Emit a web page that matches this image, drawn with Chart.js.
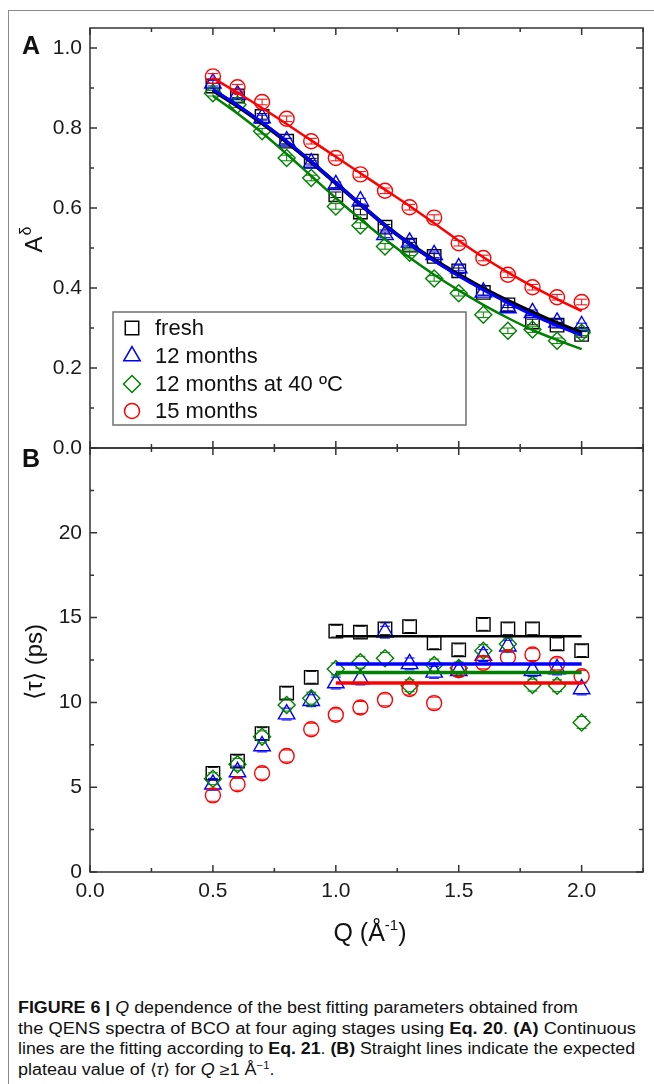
<!DOCTYPE html>
<html>
<head>
<meta charset="utf-8">
<script src="https://cdn.jsdelivr.net/npm/chart.js@4/dist/chart.umd.min.js"></script>
<style>
  body { margin: 0; background: #fff; width: 654px; height: 1084px; overflow: hidden; position: relative;
         font-family: 'Liberation Sans', Arial, sans-serif; }
  #frame { position: absolute; left: 8px; top: 10px; width: 700px; height: 1100px;
           border-top: 1px solid #8a8a8a; border-left: 1px solid #8a8a8a; }
  #chartA { position: absolute; left: 0; top: 0; }
  #chartB { position: absolute; left: 0; top: 425px; }
  #caption { position: absolute; left: 18px; top: 998px; font-size: 16px; line-height: 20.7px; color: #111;
             font-family: 'Liberation Sans Narrow', 'Liberation Sans', Arial, sans-serif; }
  #caption .ln { width: max-content; white-space: nowrap; transform-origin: 0 50%; }
  #caption sup { font-size: 10px; line-height: 0; vertical-align: 6px; }
</style>
</head>
<body>
<div id="frame"></div>
<canvas id="chartA" width="654" height="475"></canvas>
<canvas id="chartB" width="654" height="535"></canvas>
<div id="caption">
  <div class="ln"><b>FIGURE 6 |</b> <i>Q</i> dependence of the best fitting parameters obtained from</div>
  <div class="ln">the QENS spectra of BCO at four aging stages using <b>Eq. 20</b>. <b>(A)</b> Continuous</div>
  <div class="ln">lines are the fitting according to <b>Eq. 21</b>. <b>(B)</b> Straight lines indicate the expected</div>
  <div class="ln">plateau value of ⟨<i>τ</i>⟩ for <i>Q</i> ≥1 Å<sup>−1</sup>.</div>
</div>
<script>
// Q values (1/Å) shared by both panels
const qValues = [0.5, 0.6, 0.7, 0.8, 0.9, 1.0, 1.1, 1.2, 1.3, 1.4, 1.5, 1.6, 1.7, 1.8, 1.9, 2.0];
const seriesNames = ['fresh', '12 months', '12 months at 40 ºC', '15 months'];

// panel A: A^delta
const freshA   = [0.905, 0.880, 0.829, 0.767, 0.717, 0.633, 0.590, 0.552, 0.507, 0.479, 0.443, 0.389, 0.358, 0.315, 0.307, 0.284];
const m12A     = [0.912, 0.883, 0.825, 0.767, 0.712, 0.658, 0.617, 0.533, 0.514, 0.483, 0.450, 0.389, 0.350, 0.338, 0.314, 0.305];
const m12hotA  = [0.887, 0.858, 0.792, 0.725, 0.675, 0.604, 0.556, 0.504, 0.488, 0.424, 0.387, 0.333, 0.293, 0.296, 0.268, 0.288];
const m15A     = [0.929, 0.902, 0.865, 0.823, 0.767, 0.725, 0.684, 0.643, 0.602, 0.576, 0.512, 0.475, 0.433, 0.402, 0.377, 0.365];

// fits (Eq. 21)
const fitFreshA  = [0.894, 0.855, 0.812, 0.765, 0.715, 0.662, 0.609, 0.557, 0.511, 0.470, 0.433, 0.399, 0.368, 0.339, 0.312, 0.288];
const fitM12A    = [0.896, 0.857, 0.814, 0.767, 0.716, 0.663, 0.609, 0.557, 0.510, 0.468, 0.430, 0.395, 0.363, 0.333, 0.306, 0.282];
const fitM12hotA = [0.880, 0.836, 0.788, 0.735, 0.680, 0.625, 0.572, 0.522, 0.476, 0.433, 0.394, 0.358, 0.325, 0.295, 0.270, 0.247];
const fitM15A    = [0.925, 0.888, 0.850, 0.810, 0.769, 0.728, 0.687, 0.646, 0.605, 0.562, 0.518, 0.477, 0.439, 0.404, 0.372, 0.342];

// panel B: <tau> (ps)
const freshB   = [5.82, 6.54, 8.16, 10.55, 11.48, 14.20, 14.14, 14.34, 14.47, 13.51, 13.10, 14.60, 14.34, 14.34, 13.45, 13.05];
const m12B     = [5.17, 5.90, 7.43, 9.31, 10.10, 11.14, 11.38, 14.14, 12.27, 11.77, 11.87, 12.76, 13.31, 11.87, 11.97, 10.79];
const m12hotB  = [5.50, 6.35, 7.97, 9.84, 10.25, 11.97, 12.37, 12.60, 10.98, 12.20, 12.03, 13.05, 13.45, 11.02, 10.98, 8.82];
const m15B     = [4.52, 5.17, 5.82, 6.84, 8.42, 9.27, 9.70, 10.15, 10.79, 9.96, 11.90, 12.33, 12.66, 12.82, 12.27, 11.54];

// plateau for Q >= 1
const plateauQ = [1.0, 2.0];
const plateauB = [13.9, 12.27, 11.77, 11.14];

const errA = 0.007;
const errB = 0.35;

const colors = ['#000000', '#0000ff', '#008000', '#ff0000'];
const styles = ['rect', 'triangle', 'rectRot', 'circle'];
const radii = [9.5, 9.5, 8.5, 7.5];

Chart.defaults.font.family = "'Liberation Sans', Arial, sans-serif";
Chart.defaults.color = '#1a1a1a';

const pts = (ys) => qValues.map((q, i) => ({ x: q, y: ys[i] }));

function markerSet(i, ys, err, order) {
  return {
    label: seriesNames[i], data: pts(ys), showLine: false,
    pointStyle: styles[i], pointRadius: radii[i], pointHoverRadius: radii[i],
    pointBorderColor: colors[i], pointBackgroundColor: 'rgba(0,0,0,0)', pointBorderWidth: 1.4,
    borderColor: colors[i], backgroundColor: 'rgba(0,0,0,0)', order, err
  };
}
function lineSet(i, data, width, order) {
  return {
    label: seriesNames[i] + ' fit', data, showLine: true, pointRadius: 0, fill: false,
    borderColor: colors[i], borderWidth: width, cubicInterpolationMode: 'monotone', order
  };
}

// error bars drawn with each dataset (caps, optional stem)
const errorBars = {
  id: 'errorBars',
  afterDatasetDraw(chart, args, opts) {
    const ds = chart.data.datasets[args.index];
    if (!ds.err) return;
    const { ctx } = chart;
    const y = chart.scales.y;
    const half = opts.capWidth / 2;
    ctx.save();
    ctx.strokeStyle = ds.borderColor;
    ctx.lineWidth = 1;
    args.meta.data.forEach((pt, j) => {
      const v = ds.data[j].y;
      const top = y.getPixelForValue(v + ds.err), bot = y.getPixelForValue(v - ds.err);
      ctx.beginPath();
      if (opts.stem) { ctx.moveTo(pt.x, top); ctx.lineTo(pt.x, bot); }
      ctx.moveTo(pt.x - half, top); ctx.lineTo(pt.x + half, top);
      ctx.moveTo(pt.x - half, bot); ctx.lineTo(pt.x + half, bot);
      ctx.stroke();
    });
    ctx.restore();
  }
};

// box around plot with inward major/minor ticks on all sides
const frameTicks = {
  id: 'frameTicks',
  afterDraw(chart, args, opts) {
    const { ctx, chartArea: a } = chart;
    const x = chart.scales.x, y = chart.scales.y;
    ctx.save();
    ctx.strokeStyle = '#333';
    ctx.lineWidth = 1.5;
    ctx.strokeRect(a.left, a.top, a.right - a.left, a.bottom - a.top);
    ctx.beginPath();
    for (let i = 0; i * opts.xMinor <= x.max + 1e-9; i++) {
      const px = x.getPixelForValue(i * opts.xMinor);
      const len = i % 2 === 0 ? 7 : 4;
      ctx.moveTo(px, a.bottom); ctx.lineTo(px, a.bottom - len);
      ctx.moveTo(px, a.top); ctx.lineTo(px, a.top + len);
    }
    for (let i = 0; i * opts.yMinor <= y.max + 1e-9; i++) {
      const py = y.getPixelForValue(i * opts.yMinor);
      const len = i % 2 === 0 ? 7 : 4;
      ctx.moveTo(a.left, py); ctx.lineTo(a.left + len, py);
      ctx.moveTo(a.right, py); ctx.lineTo(a.right - len, py);
    }
    ctx.stroke();
    ctx.restore();
  }
};

const drawPoint = Chart.helpers && Chart.helpers.drawPoint;

const textA = {
  id: 'textA',
  afterDraw(chart) {
    const { ctx } = chart;
    ctx.save();
    ctx.fillStyle = '#111';
    ctx.font = "bold 25px 'Liberation Sans', Arial, sans-serif";
    ctx.textBaseline = 'alphabetic';
    ctx.fillText('A', 22, 54);
    // y title A^δ
    ctx.translate(42, 240);
    ctx.rotate(-Math.PI / 2);
    ctx.font = "24px 'Liberation Sans', Arial, sans-serif";
    const wA = ctx.measureText('A').width;
    ctx.font = "16px 'Liberation Sans', 'DejaVu Sans', sans-serif";
    const wD = ctx.measureText('δ').width;
    const sx = -(wA + wD) / 2;
    ctx.font = "24px 'Liberation Sans', Arial, sans-serif";
    ctx.fillText('A', sx, 0);
    ctx.font = "16px 'Liberation Sans', 'DejaVu Sans', sans-serif";
    ctx.fillText('δ', sx + wA + 1, -11);
    ctx.restore();

    // legend inside plot
    ctx.save();
    ctx.fillStyle = '#fff';
    ctx.fillRect(113, 312, 353, 113);
    ctx.strokeStyle = '#6f6f6f';
    ctx.lineWidth = 1.5;
    ctx.strokeRect(113, 312, 353, 113);
    const rows = [328, 356, 384, 411];
    ctx.font = "22px 'Liberation Sans', Arial, sans-serif";
    ctx.textBaseline = 'middle';
    seriesNames.forEach((name, i) => {
      ctx.strokeStyle = colors[i];
      ctx.fillStyle = 'rgba(0,0,0,0)';
      if (drawPoint) drawPoint(ctx, { pointStyle: styles[i], radius: radii[i], borderWidth: 1.4, rotation: 0 }, 132, rows[i]);
      ctx.fillStyle = '#111';
      ctx.fillText(name, 155, rows[i] + 1);
    });
    ctx.restore();
  }
};

const textB = {
  id: 'textB',
  afterDraw(chart) {
    const { ctx } = chart;
    ctx.save();
    ctx.fillStyle = '#111';
    ctx.font = "bold 25px 'Liberation Sans', Arial, sans-serif";
    ctx.fillText('B', 22, 42);
    // y title
    ctx.save();
    ctx.translate(35, 237);
    ctx.rotate(-Math.PI / 2);
    ctx.font = "24px 'Liberation Sans', 'DejaVu Sans', sans-serif";
    ctx.textAlign = 'center';
    ctx.textBaseline = 'middle';
    ctx.fillText('⟨τ⟩ (ps)', 0, 0);
    ctx.restore();
    // x title Q (Å-1)
    const base = 516;
    ctx.font = "25px 'Liberation Sans', Arial, sans-serif";
    const w1 = ctx.measureText('Q (Å').width;
    const w3 = ctx.measureText(')').width;
    ctx.font = "15px 'Liberation Sans', Arial, sans-serif";
    const w2 = ctx.measureText('-1').width;
    const sx = 370 - (w1 + w2 + w3) / 2;
    ctx.font = "25px 'Liberation Sans', Arial, sans-serif";
    ctx.fillText('Q (Å', sx, base);
    ctx.font = "15px 'Liberation Sans', Arial, sans-serif";
    ctx.fillText('-1', sx + w1, base - 11);
    ctx.font = "25px 'Liberation Sans', Arial, sans-serif";
    ctx.fillText(')', sx + w1 + w2, base);
    ctx.restore();
  }
};

const yTickBase = {
  grid: { display: false, drawTicks: false },
  border: { display: false },
  afterFit: (s) => { s.width = 90; }
};

new Chart(document.getElementById('chartA'), {
  type: 'scatter',
  data: {
    datasets: [
      markerSet(0, freshA, errA, 10),
      markerSet(1, m12A, errA, 9),
      markerSet(2, m12hotA, errA, 8),
      markerSet(3, m15A, errA, 7),
      lineSet(0, pts(fitFreshA), 4, 6),
      lineSet(1, pts(fitM12A), 3, 5),
      lineSet(2, pts(fitM12hotA), 2.5, 4),
      lineSet(3, pts(fitM15A), 2.5, 3)
    ]
  },
  options: {
    responsive: false, animation: false, events: [],
    layout: { padding: { top: 28, right: 7, bottom: 27, left: 0 } },
    plugins: {
      legend: { display: false }, tooltip: { enabled: false },
      frameTicks: { xMinor: 0.25, yMinor: 0.1 },
      errorBars: { capWidth: 11, stem: true }
    },
    scales: {
      x: { type: 'linear', min: 0, max: 2.25, display: false },
      y: {
        ...yTickBase, min: 0, max: 1.05,
        ticks: { stepSize: 0.2, includeBounds: false, padding: 8, autoSkip: false, font: { size: 21 },
                 callback: (v) => v.toFixed(1) }
      }
    }
  },
  plugins: [errorBars, frameTicks, textA]
});

new Chart(document.getElementById('chartB'), {
  type: 'scatter',
  data: {
    datasets: [
      markerSet(0, freshB, errB, 10),
      markerSet(1, m12B, errB, 9),
      markerSet(2, m12hotB, errB, 8),
      markerSet(3, m15B, errB, 7),
      ...plateauB.map((v, i) => lineSet(i, plateauQ.map((q) => ({ x: q, y: v })), i === 0 ? 2.5 : 3.5, 6 - i))
    ]
  },
  options: {
    responsive: false, animation: false, events: [],
    layout: { padding: { top: 23, right: 7, bottom: 0, left: 0 } },
    plugins: {
      legend: { display: false }, tooltip: { enabled: false },
      frameTicks: { xMinor: 0.25, yMinor: 2.5 },
      errorBars: { capWidth: 10, stem: false }
    },
    scales: {
      x: {
        type: 'linear', min: 0, max: 2.25,
        grid: { display: false, drawTicks: false }, border: { display: false },
        afterFit: (s) => { s.height = 88; },
        ticks: { stepSize: 0.5, includeBounds: false, padding: 7, maxRotation: 0, autoSkip: false,
                 font: { size: 21 }, callback: (v) => v.toFixed(1) }
      },
      y: {
        ...yTickBase, min: 0, max: 25,
        ticks: { stepSize: 5, padding: 8, autoSkip: false, font: { size: 21 },
                 callback: (v) => (v >= 25 ? '' : String(v)) }
      }
    }
  },
  plugins: [errorBars, frameTicks, textB]
});

// squeeze the first three caption lines to their printed widths; last line uses their mean factor
const captionWidths = [560, 618, 617];
const lines = [...document.querySelectorAll('#caption .ln')];
const factors = captionWidths.map((w, i) => w / lines[i].getBoundingClientRect().width);
const meanFactor = factors.reduce((s, f) => s + f, 0) / factors.length;
lines.forEach((el, i) => {
  el.style.transform = 'scaleX(' + (i < factors.length ? factors[i] : meanFactor) + ')';
});
</script>
</body>
</html>
